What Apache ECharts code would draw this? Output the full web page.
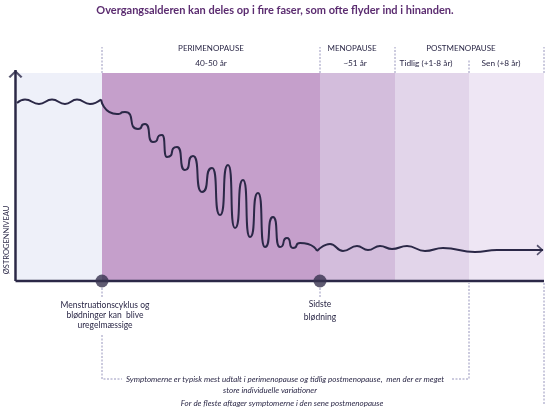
<!DOCTYPE html>
<html>
<head>
<meta charset="utf-8">
<script src="https://cdn.jsdelivr.net/npm/echarts@6/dist/echarts.min.js"></script>
<style>
html,body{margin:0;padding:0;background:#fff}
#chart{width:550px;height:410px}
</style>
</head>
<body>
<div id="chart"></div>
<script>
// faseskift langs tidsaksen (x=0 er y-aksen)
var phaseBounds = [0, 85, 303, 378, 452, 527];
var phaseNames = ['PERIMENOPAUSE', 'MENOPAUSE', 'POSTMENOPAUSE'];
var phaseYears = ['40-50 år', '~51 år', 'Tidlig (+1-8 år)', 'Sen (+8 år)'];
var bandTop = 208;
var axisTop = 211;

// østrogenniveau aflæst fra kurven
var curveX = [0, 8, 22, 35, 48, 60, 73, 84, 100, 108, 121, 128, 136, 145, 150, 160, 168, 176,
	185, 195, 203, 211, 218, 226, 233, 241, 248, 256, 263, 270, 276, 283, 300, 313, 326, 340,
	351, 363, 375, 390, 408, 426, 458, 480, 526];
var curveY = [178, 181.5, 177, 181.5, 177, 181.5, 177, 181.5, 167, 169, 152, 157, 139, 146, 124, 134, 111, 125,
	89, 113, 66, 116, 53, 101, 44, 88, 34, 64, 34, 43, 33, 38, 30, 37, 30, 35,
	31, 35, 32, 35, 30, 33, 29, 31, 31];

// hændelser på tidsaksen
var eventX = [85, 303];
var eventLabels = ['Menstruationscyklus og\nblødninger kan  blive\nuregelmæssige', 'Sidste\nblødning'];
var noteLines = [
	'Symptomerne er typisk mest udtalt i perimenopause og tidlig postmenopause,  men der er meget',
	'store individuelle variationer',
	'For de fleste aftager symptomerne i den sene postmenopause'
];

var ink = '#2b2847';
var dashColor = '#9896bd';
var bandColors = ['#eef0f9', '#c59fcb', '#d3bddc', '#e2d5ea', '#eee6f4'];
var font = 'Lato';

var myChart = echarts.init(document.getElementById('chart'));

function polyline(points, style, z){
	return {
		type: 'line', data: points, symbol: 'none', silent: true, z: z || 3,
		lineStyle: style
	};
}
function dashed(points){
	return polyline(points, {color: dashColor, width: 1, type: [2, 1.5]}, 2);
}
function wave(from, to, smooth){
	// rolige bølger er bløde, de store svingninger næsten lodrette
	return {
		type: 'line', data: curve.slice(from, to + 1), smooth: smooth, smoothMonotone: 'x',
		symbol: 'none', silent: true, z: 5, lineStyle: {color: ink, width: 2}
	};
}
function texts(items){
	return {
		type: 'custom', silent: true, z: 6,
		data: items.map(function(d){ return [d.x, d.y]; }),
		renderItem: function(params, api){
			var d = items[params.dataIndex];
			var p = api.coord([d.x, d.y]);
			return {
				type: 'text', x: p[0], y: p[1], rotation: d.rotate || 0,
				style: {
					text: d.text, fill: ink, font: (d.italic ? 'italic ' : '') + d.size + 'px ' + font,
					textAlign: 'center', textVerticalAlign: 'middle', lineHeight: d.lh || d.size + 2
				}
			};
		}
	};
}

var bands = [];
for (var i = 0; i < phaseBounds.length - 1; i++) {
	bands.push([phaseBounds[i], phaseBounds[i + 1], bandTop]);
}
var curve = curveX.map(function(x, i){ return [x, curveY[i]]; });

var labels = [
	{x: 194, y: 233, text: phaseNames[0], size: 8},
	{x: 335, y: 233, text: phaseNames[1], size: 8},
	{x: 444, y: 233, text: phaseNames[2], size: 8},
	{x: 194, y: 218, text: phaseYears[0], size: 8.3},
	{x: 338, y: 218, text: phaseYears[1], size: 8.3},
	{x: 409, y: 218, text: phaseYears[2], size: 8.3},
	{x: 484, y: 218, text: phaseYears[3], size: 8.3},
	{x: 88, y: -34, text: eventLabels[0], size: 8.5, lh: 10},
	{x: 303, y: -30, text: eventLabels[1], size: 8.5, lh: 12.5},
	{x: 268, y: -98, text: noteLines[0], size: 8, italic: true},
	{x: 253, y: -109, text: noteLines[1], size: 8, italic: true},
	{x: 265, y: -122, text: noteLines[2], size: 8, italic: true},
	{x: -10, y: 41, text: 'ØSTROGENNIVEAU', size: 7.5, rotate: Math.PI / 2}
];

var series = [
	{
		type: 'custom', silent: true, z: 1, data: bands,
		renderItem: function(params, api){
			var p0 = api.coord([api.value(0), api.value(2)]);
			var p1 = api.coord([api.value(1), 0]);
			return {type: 'rect', shape: {x: p0[0], y: p0[1], width: p1[0] - p0[0], height: p1[1] - p0[1]},
				style: {fill: bandColors[params.dataIndex]}};
		}
	},
	wave(0, 7, 0.5),
	wave(7, 32, 0.85),
	wave(32, curve.length - 1, 0.5),
	polyline([[-1.5, 0], [-1.5, axisTop]], {color: ink, width: 2.5}, 4),
	polyline([[-1.5, 0], [phaseBounds[5], 0]], {color: ink, width: 2.5}, 4),
	{
		type: 'scatter', silent: true, z: 7,
		data: [
			{value: [-1.5, axisTop], symbol: 'path://M0,9 L8,0 L16,9 L14,10.5 L8,3.6 L2,10.5 Z', symbolSize: [14, 8], symbolOffset: [0, 4]},
			{value: curve[curve.length - 1], symbol: 'path://M0,0 L9,8 L0,16 L-1.5,14 L5.6,8 L-1.5,2 Z', symbolSize: [7, 11], symbolOffset: [-3, 0]}
		],
		itemStyle: {color: ink}
	},
	{
		type: 'scatter', silent: true, z: 8, symbolSize: 13,
		data: eventX.map(function(x){ return [x, 0]; }),
		itemStyle: {color: '#37324f'}
	},
	texts(labels)
];

// stiplede skillelinjer over faserne
[1, 2, 3, 5].forEach(function(k){
	series.push(dashed([[phaseBounds[k], bandTop], [phaseBounds[k], 234]]));
});
series.push(dashed([[phaseBounds[4], bandTop], [phaseBounds[4], 221]]));
// under aksen
eventX.forEach(function(x){
	series.push(dashed([[x, -7], [x, -16]]));
});
series.push(dashed([[phaseBounds[1], -54], [phaseBounds[1], -98], [105, -98]]));
series.push(dashed([[435, -98], [phaseBounds[4], -98], [phaseBounds[4], -2]]));
series.push(dashed([[phaseBounds[5], -2], [phaseBounds[5], -124]]));

option = {
	backgroundColor: '#fff',
	animation: false,
	title: {
		text: 'Overgangsalderen kan deles op i fire faser, som ofte flyder ind i hinanden.',
		left: 'center', top: 0,
		textStyle: {fontFamily: font, fontWeight: 'bold', fontSize: 11, color: '#5b2c70'}
	},
	grid: {left: 0, right: 0, top: 0, bottom: 0},
	xAxis: {type: 'value', min: -17, max: 533, show: false},
	yAxis: {type: 'value', min: -129, max: 281, show: false},
	series: series
};
myChart.setOption(option);
</script>
</body>
</html>
